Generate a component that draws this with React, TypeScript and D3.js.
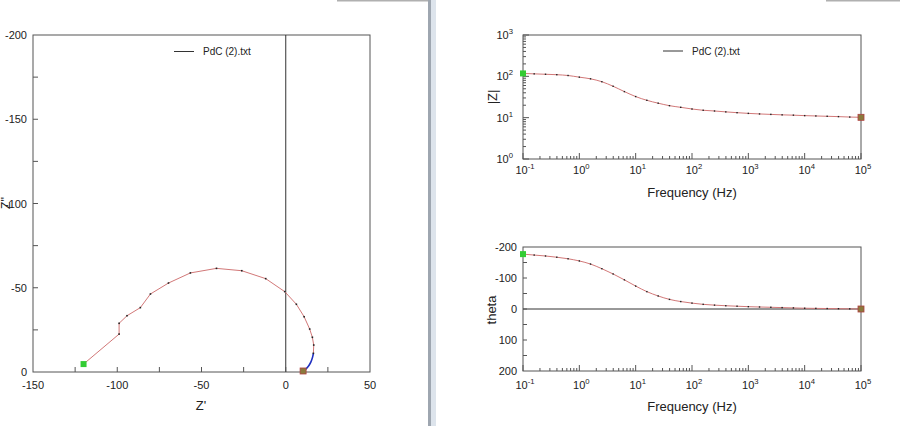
import React from "react";
import * as d3 from "d3";

// Nyquist data (Z', Z'')
const nyqRe = [-120, -98.9, -98.9, -94.2, -86.3, -80.3, -69.6, -56.6, -41.1, -26.1, -11.9, -0.6, 6.3, 10.9, 14.2, 15.8, 16.6, 16.4];
const nyqIm = [-4.7, -22.5, -28.9, -33.4, -38.2, -46.3, -52.8, -58.8, -61.5, -60.1, -55.4, -47.7, -40.2, -32.8, -25.5, -20.6, -16.0, -11.1];
const tailRe = [16.4, 15.9, 15.0, 13.8, 12.3, 11.0, 10.3];
const tailIm = [-11.1, -8.5, -6.0, -3.8, -2.0, -1.0, -0.6];

// Bode data
const freq = [0.1, 0.158, 0.251, 0.398, 0.631, 1, 1.58, 2.51, 3.98, 6.31, 10, 15.8, 25.1, 39.8, 63.1, 100, 158, 251, 398, 631, 1000, 1580, 2510, 3980, 6310, 10000, 15800, 25100, 39800, 63100, 100000];
const zMod = [117.5, 114.8, 112.2, 109.6, 104.7, 95.5, 87.1, 74.1, 57.5, 42.7, 32.4, 26.3, 22.4, 19.5, 17.8, 16.2, 15.1, 14.5, 13.8, 13.2, 12.7, 12.3, 12.0, 11.7, 11.5, 11.2, 11.0, 10.8, 10.6, 10.35, 10.2];
const theta = [-177, -174, -171, -167, -162, -155, -145, -130, -113, -94, -74, -56, -42, -31, -24, -19, -15, -12.5, -10.5, -9, -7.5, -6.5, -5.5, -4.5, -3.5, -2.5, -2, -1.5, -1, -0.5, 0];

const nyqXTicks = [-150, -100, -50, 0, 50];
const nyqYTicks = [-200, -150, -100, -50, 0];
const thetaTicks = [-200, -100, 0, 100, 200];
const legendLabel = "PdC (2).txt";

const FONT = "Liberation Sans, Arial, sans-serif";
const AX = "#555";
const LINE = "#d27878";

function Sup({ x, y, exp, anchor = "middle", size = 11 }: any) {
  return (
    <text x={x} y={y} textAnchor={anchor} fontSize={size} fontFamily={FONT} fill="#222">
      <tspan>10</tspan>
      <tspan dy={-5} fontSize={size * 0.7}>{exp}</tspan>
    </text>
  );
}

export default function App() {
  // Nyquist
  const nx = d3.scaleLinear().domain([-150, 50]).range([33, 370]);
  const ny = d3.scaleLinear().domain([0, -200]).range([372, 35]);
  const nyqPts = nyqRe.map((r, i) => [r, nyqIm[i]] as [number, number]);
  const tailPts = tailRe.map((r, i) => [r, tailIm[i]] as [number, number]);
  const nLine = d3.line<[number, number]>().x(d => nx(d[0])).y(d => ny(d[1]));
  const tailLine = d3.line<[number, number]>().x(d => nx(d[0])).y(d => ny(d[1])).curve(d3.curveBasis);

  // Bode
  const bx = d3.scaleLog().domain([0.1, 1e5]).range([523, 861]);
  const bzy = d3.scaleLog().domain([1, 1000]).range([159, 35]);
  const by = d3.scaleLinear().domain([-200, 200]).range([247, 371]);
  const zLine = d3.line<number>().x((_, i) => bx(freq[i])).y(d => bzy(d)).curve(d3.curveMonotoneX);
  const tLine = d3.line<number>().x((_, i) => bx(freq[i])).y(d => by(d)).curve(d3.curveMonotoneX);

  const xDecades = [-1, 0, 1, 2, 3, 4, 5];
  const xMinor: number[] = [];
  for (let e = -1; e < 5; e++) for (let m = 2; m <= 9; m++) xMinor.push(m * Math.pow(10, e));
  const yMinor: number[] = [];
  for (let e = 0; e < 3; e++) for (let m = 2; m <= 9; m++) yMinor.push(m * Math.pow(10, e));

  const logXAxis = (bottom: number, labelY: number) => (
    <g>
      {xDecades.map(e => (
        <line key={"M" + e} x1={bx(Math.pow(10, e))} x2={bx(Math.pow(10, e))} y1={bottom} y2={bottom - 6} stroke={AX} />
      ))}
      {xMinor.map((v, i) => (
        <line key={"m" + i} x1={bx(v)} x2={bx(v)} y1={bottom} y2={bottom - 3} stroke={AX} />
      ))}
      {xDecades.map(e => (
        <Sup key={"l" + e} x={bx(Math.pow(10, e)) + 2} y={labelY} exp={String(e)} />
      ))}
    </g>
  );

  return (
    <svg width={900} height={426} style={{ position: "absolute", left: 0, top: 0, background: "#fff" }}>
      <rect x={0} y={0} width={900} height={426} fill="#fff" />
      {/* window chrome */}
      <rect x={337} y={0} width={91} height={1.5} fill="#b0b0b0" />
      <rect x={826} y={0} width={74} height={1.5} fill="#b0b0b0" />
      <rect x={428} y={0} width={3} height={426} fill="#9ea6b0" />
      <rect x={431} y={0} width={5} height={426} fill="#dde4ec" />

      {/* ===== Nyquist ===== */}
      <rect x={33} y={35} width={337} height={337} fill="none" stroke={AX} />
      <line x1={nx(0)} x2={nx(0)} y1={35} y2={372} stroke="#333" />
      {d3.range(-125, 50, 25).map(v => (
        <line key={"nxt" + v} x1={nx(v)} x2={nx(v)} y1={372} y2={367} stroke={AX} />
      ))}
      {d3.range(-175, 0, 25).map(v => (
        <line key={"nyt" + v} x1={33} x2={38} y1={ny(v)} y2={ny(v)} stroke={AX} />
      ))}
      {nyqXTicks.map(v => (
        <text key={"nxl" + v} x={nx(v)} y={389} textAnchor="middle" fontSize={11} fontFamily={FONT} fill="#222">{v}</text>
      ))}
      {nyqYTicks.map(v => (
        <text key={"nyl" + v} x={27} y={ny(v) + 4} textAnchor="end" fontSize={11} fontFamily={FONT} fill="#222">{v}</text>
      ))}
      <text x={201} y={410} textAnchor="middle" fontSize={13} fontFamily={FONT} fill="#222">Z'</text>
      <text transform="translate(10,203) rotate(-90)" textAnchor="middle" fontSize={12} fontFamily={FONT} fill="#222">Z''</text>
      <line x1={174} x2={194} y1={51.5} y2={51.5} stroke="#333" />
      <text x={203} y={55} fontSize={10} fontFamily={FONT} fill="#222">{legendLabel}</text>
      <path d={nLine(nyqPts) || ""} fill="none" stroke={LINE} strokeWidth={1} />
      <path d={tailLine(tailPts) || ""} fill="none" stroke="#2030c0" strokeWidth={1.6} />
      {nyqPts.slice(1).map((p, i) => (
        <rect key={"np" + i} x={nx(p[0]) - 0.8} y={ny(p[1]) - 0.8} width={1.6} height={1.6} fill="#222" />
      ))}
      <rect x={nx(nyqRe[0]) - 3} y={ny(nyqIm[0]) - 3} width={6} height={6} fill="#33cc33" />
      <rect x={nx(tailRe[tailRe.length - 1]) - 3} y={ny(tailIm[tailIm.length - 1]) - 3} width={6} height={6} fill="#8a7a3c" stroke="#b04040" strokeWidth={0.8} />

      {/* ===== |Z| Bode ===== */}
      <rect x={523} y={35} width={338} height={124} fill="none" stroke={AX} />
      {[0, 1, 2, 3].map(e => (
        <line key={"zyM" + e} x1={523} x2={529} y1={bzy(Math.pow(10, e))} y2={bzy(Math.pow(10, e))} stroke={AX} />
      ))}
      {yMinor.map((v, i) => (
        <line key={"zym" + i} x1={523} x2={526} y1={bzy(v)} y2={bzy(v)} stroke={AX} />
      ))}
      {[0, 1, 2, 3].map(e => (
        <Sup key={"zyl" + e} x={513} y={bzy(Math.pow(10, e)) + 4} exp={String(e)} anchor="end" />
      ))}
      {logXAxis(159, 174)}
      <text x={692} y={197} textAnchor="middle" fontSize={13} fontFamily={FONT} fill="#222">Frequency (Hz)</text>
      <text transform="translate(497,97) rotate(-90)" textAnchor="middle" fontSize={13} fontFamily={FONT} fill="#222">|Z|</text>
      <line x1={663} x2={683} y1={51} y2={51} stroke="#333" />
      <text x={692} y={55} fontSize={10} fontFamily={FONT} fill="#222">{legendLabel}</text>
      <path d={zLine(zMod) || ""} fill="none" stroke={LINE} strokeWidth={1} />
      {zMod.slice(1, -1).map((v, i) => (
        <rect key={"zp" + i} x={bx(freq[i + 1]) - 0.7} y={bzy(v) - 0.7} width={1.4} height={1.4} fill="#222" />
      ))}
      <rect x={bx(freq[0]) - 3} y={bzy(zMod[0]) - 3} width={6} height={6} fill="#33cc33" />
      <rect x={bx(freq[freq.length - 1]) - 3} y={bzy(zMod[zMod.length - 1]) - 3} width={6} height={6} fill="#8a7a3c" stroke="#b04040" strokeWidth={0.8} />

      {/* ===== theta Bode ===== */}
      <rect x={523} y={247} width={338} height={124} fill="none" stroke={AX} />
      <line x1={523} x2={861} y1={by(0)} y2={by(0)} stroke="#333" />
      {d3.range(-150, 200, 50).map(v => (
        <line key={"tyt" + v} x1={523} x2={527} y1={by(v)} y2={by(v)} stroke={AX} />
      ))}
      {thetaTicks.map(v => (
        <text key={"tyl" + v} x={517} y={by(v) + 4} textAnchor="end" fontSize={11} fontFamily={FONT} fill="#222">{v}</text>
      ))}
      {logXAxis(371, 389)}
      <text x={692} y={411} textAnchor="middle" fontSize={13} fontFamily={FONT} fill="#222">Frequency (Hz)</text>
      <text transform="translate(496,310) rotate(-90)" textAnchor="middle" fontSize={13} fontFamily={FONT} fill="#222">theta</text>
      <path d={tLine(theta) || ""} fill="none" stroke={LINE} strokeWidth={1} />
      {theta.slice(1, -1).map((v, i) => (
        <rect key={"tp" + i} x={bx(freq[i + 1]) - 0.7} y={by(v) - 0.7} width={1.4} height={1.4} fill="#222" />
      ))}
      <rect x={bx(freq[0]) - 3} y={by(theta[0]) - 3} width={6} height={6} fill="#33cc33" />
      <rect x={bx(freq[freq.length - 1]) - 3} y={by(theta[theta.length - 1]) - 3} width={6} height={6} fill="#8a7a3c" stroke="#b04040" strokeWidth={0.8} />
    </svg>
  );
}
